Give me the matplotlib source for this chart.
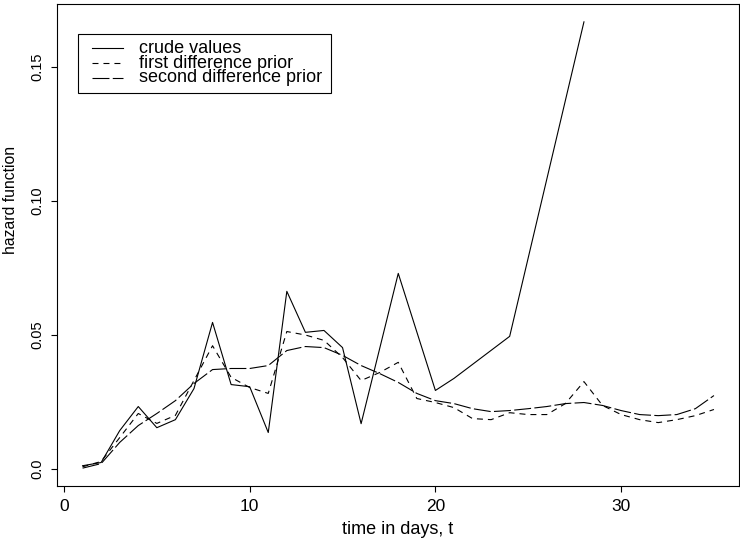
import matplotlib
matplotlib.use("Agg")
import matplotlib.pyplot as plt
from matplotlib.lines import Line2D
from matplotlib.patches import Rectangle

plt.rcParams['font.family'] = ['Liberation Sans', 'DejaVu Sans']
plt.rcParams['lines.scale_dashes'] = False

# crude values (only at observed times)
crude_t = [1, 2, 3, 4, 5, 6, 7, 8, 9, 10, 11, 12, 13, 14, 15, 16, 18, 20, 21, 24, 28]
crude_h = [0.0012, 0.0024, 0.0143, 0.0233, 0.0154, 0.0184, 0.0300, 0.0547, 0.0315, 0.0307,
           0.0136, 0.0663, 0.0510, 0.0517, 0.0453, 0.0169, 0.0730, 0.0293, 0.0338, 0.0495, 0.1669]

days = list(range(1, 36))
first_diff = [0.0008, 0.0028, 0.0117, 0.0207, 0.0170, 0.0200, 0.0330, 0.0460, 0.0342, 0.0304,
              0.0282, 0.0513, 0.0500, 0.0480, 0.0416, 0.0330, 0.0360, 0.0398, 0.0263, 0.0248,
              0.0229, 0.0188, 0.0184, 0.0210, 0.0203, 0.0203, 0.0244, 0.0326, 0.0237, 0.0203,
              0.0184, 0.0173, 0.0184, 0.0199, 0.0222]
second_diff = [0.0003, 0.0020, 0.0099, 0.0162, 0.0207, 0.0255, 0.0319, 0.0371, 0.0375, 0.0375,
               0.0386, 0.0442, 0.0457, 0.0453, 0.0424, 0.0386, 0.0356, 0.0323, 0.0282, 0.0255,
               0.0244, 0.0225, 0.0214, 0.0218, 0.0225, 0.0233, 0.0244, 0.0248, 0.0237, 0.0218,
               0.0203, 0.0199, 0.0203, 0.0225, 0.0274]

legend_labels = ["crude values", "first difference prior", "second difference prior"]
x_ticks = [0, 10, 20, 30]
y_ticks = [0.0, 0.05, 0.10, 0.15]
y_tick_labels = ["0.0", "0.05", "0.10", "0.15"]

W, H = 740, 544
fig = plt.figure(figsize=(W / 100, H / 100), dpi=100)

def fx(px):
    return px / W

def fy(py):
    return 1 - py / H

left, right, top, bottom = 57.3, 739.2, 4.0, 486.0
ax = fig.add_axes([fx(left), fy(bottom), fx(right) - fx(left), fy(top) - fy(bottom)])

lw = 0.8
short_dash = (0, (4.3, 3.6))
long_dash = (0, (12.2, 2.4))

ax.plot(crude_t, crude_h, color='black', lw=lw, linestyle='-')
ax.plot(days, first_diff, color='black', lw=lw, linestyle=short_dash)
ax.plot(days, second_diff, color='black', lw=lw, linestyle=long_dash)

xr = 35 - 1
ax.set_xlim(1 - 0.04 * xr, 35 + 0.04 * xr)
ymin, ymax = min(second_diff), max(crude_h)
yr = ymax - ymin
ax.set_ylim(ymin - 0.04 * yr, ymax + 0.04 * yr)

ax.set_xticks(x_ticks)
ax.set_xticklabels([str(v) for v in x_ticks], fontsize=12.5)
ax.set_yticks(y_ticks)
ax.set_yticklabels(y_tick_labels, fontsize=10.5, rotation=90, va='center')
ax.tick_params(axis='both', direction='out', length=4.5, width=0.8, color='black')
ax.tick_params(axis='x', pad=5)
ax.tick_params(axis='y', pad=5)
for s in ax.spines.values():
    s.set_linewidth(0.8)
    s.set_color('black')

fig.text(fx(398), fy(530), "time in days, t", ha='center', va='center', fontsize=13)
fig.text(fx(11), fy(200), "hazard function", ha='center', va='center', fontsize=11.3, rotation=90)

# legend drawn in figure pixel space
fig.patches.append(Rectangle((fx(78.3), fy(93.3)), fx(330.7) - fx(78.3), fy(34.3) - fy(93.3),
                             transform=fig.transFigure, fill=False, edgecolor='black', lw=0.8))
styles = ['-', short_dash, long_dash]
rows = [48.3, 63.3, 78.0]
for lab, st, ry in zip(legend_labels, styles, rows):
    fig.lines.append(Line2D([fx(92), fx(123)], [fy(ry), fy(ry)], transform=fig.transFigure,
                            color='black', lw=lw, linestyle=st))
    fig.text(fx(139), fy(ry), lab, ha='left', va='center', fontsize=13)

fig.savefig("out.png", dpi=100)
